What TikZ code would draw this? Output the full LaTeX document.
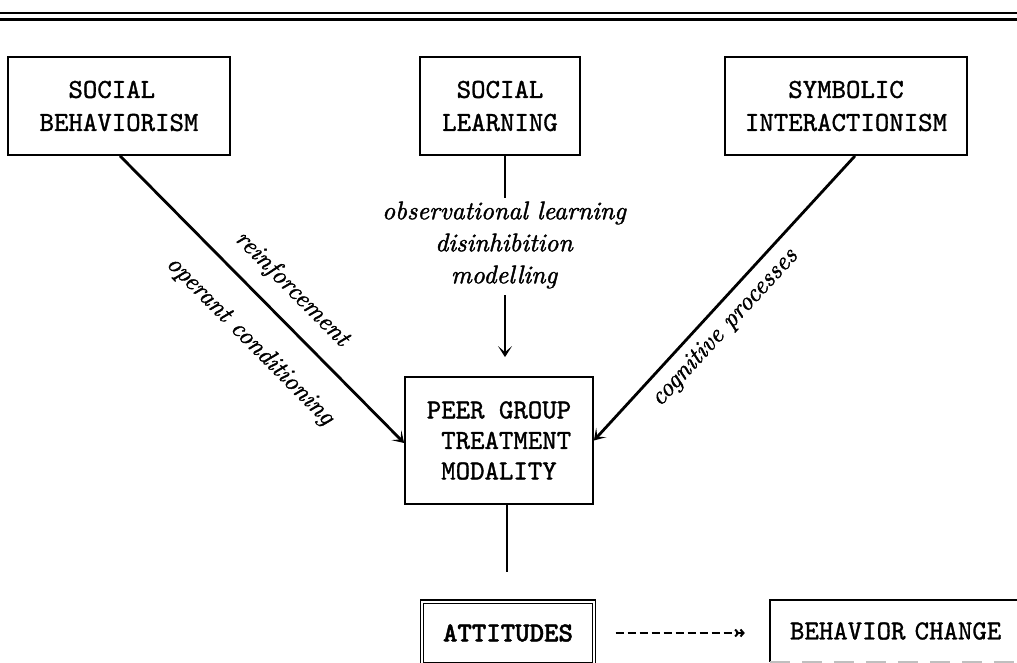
\documentclass[tikz,border=0pt]{standalone}
\usepackage{fontspec}
\usetikzlibrary{arrows.meta}
% typewriter faces, slightly emboldened
\newfontfamily\twr{lmmono10-regular.otf}[FakeBold=1.2]
\newfontfamily\twb{lmmonolt10-bold.otf}[FakeBold=1.5]
\newfontfamily\itl{lmroman10-italic.otf}[FakeBold=1.6]
\begin{document}
\begin{tikzpicture}[x=1pt,y=-1pt,
  box/.style={draw, line width=1.8pt, inner sep=0pt,
    font=\twr\fontsize{27.5}{33}\selectfont},
  conn/.style={line width=1.8pt},
  barb/.style={-{Stealth[length=11pt,width=14pt,inset=6pt]}},
  diag/.style={line width=2.8pt, barb},
  lbl/.style={font=\itl\fontsize{25.5}{32}\selectfont, inner sep=0pt},
]
\useasboundingbox (0,0) rectangle (1017,663);
\clip (0,0) rectangle (1017,663);

% double rule across the top
\draw[line width=2.5pt] (0,13) -- (1017,13);
\draw[line width=2.5pt] (0,19.5) -- (1017,19.5);

% the three source theories
\node[box, minimum width=222pt, minimum height=98pt, align=left] (sb) at (119,106)
  {\phantom{XX}SOCIAL\\BEHAVIORISM};
\node[box, minimum width=160pt, minimum height=98pt, align=center] (sl) at (500,106)
  {SOCIAL\\LEARNING};
\node[box, minimum width=242pt, minimum height=98pt, align=left] (sy) at (846,106)
  {\phantom{XXX}SYMBOLIC\\INTERACTIONISM};

% central modality
\node[box, minimum width=188pt, minimum height=127pt, align=left,
  font=\twr\fontsize{27.5}{30.5}\selectfont] (peer) at (499,440.5)
  {PEER GROUP\\\phantom{X}TREATMENT\\\phantom{X}MODALITY};

% social learning mechanisms
\node[lbl, align=center] (obs) at (504,245)
  {observational learning\\disinhibition\\modelling};
\coordinate (slA) at (505,198);
\coordinate (slB) at (505,295);
\draw[conn] ([xshift=5pt]sl.south) -- (slA);
\draw[conn, barb, shorten >=19pt] (slB) -- (slB |- peer.north);

% diagonal influences
\draw[diag] ([xshift=1pt]sb.south) -- ([yshift=-2.5pt]peer.west);
\draw[diag] ([xshift=9pt]sy.south) -- (peer.east);
\node[lbl, rotate=-45.2] (reinf) at (292,289) {reinforcement};
\node[lbl, rotate=-45.2] (oper) at (250,341) {operant conditioning};
\node[lbl, rotate=47.4] (cogn) at (725,328) {cognitive processes};

% outcome
\coordinate (pb) at (507,572);
\draw[conn] ([xshift=8pt]peer.south) -- (pb);

\node[draw, double, line width=1.3pt, double distance=2pt, inner sep=0pt,
  minimum width=172pt, minimum height=63pt,
  font=\twb\fontsize{27.5}{33}\selectfont] (att) at (508,633) {ATTITUDES};

\node[inner sep=0pt, inner xsep=20pt, text width=220pt, minimum height=62pt, align=left,
  font=\twr\fontsize{27.5}{33}\selectfont] (bc) at (900,631) {BEHAVIOR CHANGE};
\draw[line width=1.8pt] (bc.south west) -- (bc.north west) -- (bc.north east);
\draw[gray!50, line width=1.5pt, dash pattern=on 20pt off 12pt] (bc.south west) -- (bc.south east);

\draw[line width=2pt, dash pattern=on 8pt off 4pt,
  -{Straight Barb[length=3pt,width=7pt]Straight Barb[length=3pt,width=7pt]},
  shorten <=21pt, shorten >=25pt] (att.east) -- (att.east -| bc.west);
\end{tikzpicture}
\end{document}
